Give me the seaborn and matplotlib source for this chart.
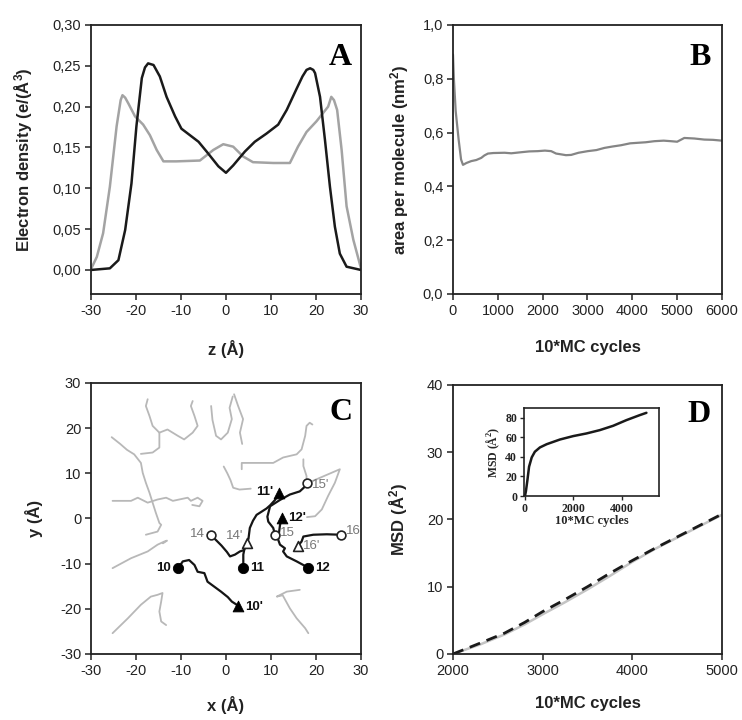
import matplotlib
matplotlib.use("Agg")
import matplotlib.pyplot as plt
from matplotlib.ticker import FixedLocator
import pandas as pd
import seaborn as sns

# ---- panel A: electron density profiles ----
z_dark = [-30, -25.8, -23.9, -22.4, -21.0, -19.9, -18.7, -18.0, -17.3, -16.1, -14.7, -13.2, -11.3, -9.9,
          -8.0, -6.1, -4.3, -1.7, 0.0, 1.6, 4.2, 6.4, 9.0, 11.6, 13.5, 15.7, 17.0, 17.9, 18.7, 19.4, 19.8,
          20.9, 22.0, 23.1, 24.2, 25.3, 26.8, 30]
rho_dark = [0.0, 0.002, 0.012, 0.049, 0.106, 0.176, 0.235, 0.248, 0.253, 0.251, 0.237, 0.212, 0.188, 0.173,
            0.165, 0.157, 0.145, 0.127, 0.119, 0.128, 0.145, 0.157, 0.167, 0.178, 0.196, 0.222, 0.237, 0.245,
            0.247, 0.245, 0.241, 0.212, 0.159, 0.102, 0.053, 0.020, 0.004, 0.0]
z_light = [-30, -28.7, -27.3, -25.8, -24.3, -23.4, -23.0, -22.4, -21.7, -20.2, -18.4, -16.9, -15.4, -13.9,
           -11.0, -5.8, -2.8, -0.6, 1.6, 3.8, 6.0, 10.5, 14.2, 16.0, 17.9, 20.1, 22.7, 23.4, 24.0, 24.7,
           25.7, 26.8, 28.3, 30]
rho_light = [0.001, 0.016, 0.045, 0.102, 0.176, 0.208, 0.214, 0.211, 0.204, 0.188, 0.178, 0.165, 0.147,
             0.133, 0.133, 0.134, 0.147, 0.154, 0.151, 0.139, 0.132, 0.131, 0.131, 0.151, 0.169, 0.182,
             0.200, 0.212, 0.208, 0.196, 0.147, 0.078, 0.037, 0.002]

# ---- panel B: area per molecule ----
cycles_b = [0, 20, 60, 126, 180, 223, 300, 408, 520, 631, 700, 780, 900, 1151, 1300, 1522, 1700, 1893,
            2050, 2190, 2300, 2413, 2520, 2636, 2800, 3007, 3200, 3378, 3550, 3750, 3950, 4121, 4300,
            4492, 4700, 4863, 5000, 5160, 5383, 5605, 5800, 6000]
area = [0.89, 0.80, 0.68, 0.574, 0.50, 0.48, 0.487, 0.494, 0.498, 0.506, 0.515, 0.522, 0.524, 0.525,
        0.523, 0.527, 0.530, 0.531, 0.533, 0.531, 0.522, 0.519, 0.516, 0.517, 0.525, 0.531, 0.535,
        0.543, 0.548, 0.553, 0.560, 0.562, 0.564, 0.568, 0.570, 0.568, 0.566, 0.580, 0.578, 0.574,
        0.573, 0.570]

# ---- panel C: lateral trajectories ----
t10_x = [-10.6, -9.6, -8.2, -7.0, -6.3, -4.8, -4.1, -2.6, -1.1, 0.4, 1.3, 2.7]
t10_y = [-11.0, -9.5, -9.2, -10.3, -11.8, -12.1, -14.0, -15.1, -16.2, -17.4, -18.4, -19.3]
t11_x = [3.85, 3.85, 4.2, 5.0, 5.3, 6.0, 6.8, 7.9, 9.0, 9.8, 10.9, 11.8]
t11_y = [-10.9, -8.0, -6.2, -4.5, -2.1, -0.5, 0.8, 1.5, 2.2, 2.9, 4.1, 5.6]
t12_x = [18.3, 15.7, 13.5, 12.7, 13.1, 12.0, 11.6, 11.8, 12.0, 12.4]
t12_y = [-10.9, -9.5, -8.4, -7.3, -6.6, -5.8, -4.7, -3.0, -1.5, 0.1]
t14_x = [-3.4, -2.2, -1.0, 0.2, 0.9, 2.0, 3.1, 4.0, 4.6]
t14_y = [-3.6, -4.8, -6.0, -7.4, -8.4, -8.0, -7.3, -7.0, -5.5]
t15_x = [10.9, 10.5, 9.4, 9.2, 9.8, 12.0, 14.2, 16.4, 17.6, 18.0]
t15_y = [-3.6, -2.1, -0.7, 0.4, 2.7, 4.1, 5.3, 6.0, 7.1, 7.8]
t16_x = [25.5, 22.4, 19.4, 17.2, 16.8, 15.9]
t16_y = [-3.6, -3.5, -3.6, -4.0, -5.1, -6.2]

g1_x = [-25.4, -23.5, -22.0, -20.4, -18.9, -18.5, -17.8, -17.0, -16.3, -15.6, -14.8, -14.4, -15.2, -17.8]
g1_y = [18.0, 16.5, 15.2, 14.2, 12.3, 10.1, 7.9, 5.7, 3.5, 1.3, -1.0, -1.4, -2.9, -3.6]
g2_x = [-17.4, -17.8, -17.0, -16.3, -14.8, -14.8, -16.3, -18.9]
g2_y = [26.4, 24.9, 22.7, 20.5, 19.0, 15.7, 14.6, 14.3]
g3_x = [-14.8, -13.0, -10.7, -9.3, -7.4, -6.3, -7.0, -7.8, -7.4]
g3_y = [19.0, 19.7, 18.3, 17.5, 19.0, 20.5, 22.7, 24.9, 26.0]
g4_x = [-25.2, -21.1, -19.6, -17.4, -15.2, -13.3, -11.8, -10.4, -8.5, -7.8, -6.3, -5.2, -5.9, -7.5]
g4_y = [3.9, 3.9, 4.6, 3.5, 4.2, 4.6, 3.9, 4.2, 4.6, 3.9, 4.6, 3.9, 2.7, 3.0]
g5_x = [-3.3, -3.0, -2.2, -1.1, 0.4, 1.3, 0.8, 1.5]
g5_y = [24.9, 21.8, 18.3, 17.5, 19.0, 22.0, 24.5, 27.0]
g6_x = [1.8, 2.7, 3.8, 3.1, 3.6]
g6_y = [27.5, 24.9, 22.0, 19.0, 16.5]
g7_x = [-0.5, 0.3, 1.0, 1.6, 3.0, 5.5]
g7_y = [11.5, 10.0, 8.5, 6.8, 6.4, 6.6]
g8_x = [3.5, 3.5, 5.7, 7.9, 10.5, 12.7, 15.7, 16.8, 17.6, 17.9, 18.6, 19.2]
g8_y = [10.9, 12.3, 12.3, 12.3, 12.3, 13.5, 14.2, 15.3, 18.3, 20.5, 21.2, 20.8]
g9_x = [17.2, 17.2, 17.9, 17.9, 18.3, 25.3, 24.2, 22.7, 21.3, 19.8, 18.0]
g9_y = [13.1, 11.6, 9.4, 7.9, 7.9, 10.9, 7.9, 5.0, 2.0, 0.5, 0.3]
g10_x = [-25.2, -21.1, -17.4, -15.2, -13.7, -13.1, -14.0]
g10_y = [-11.0, -8.8, -7.3, -5.8, -5.1, -4.9, -5.5]
g11_x = [-25.2, -21.8, -18.9, -16.7, -15.2, -14.1, -14.4, -14.8, -14.4, -13.3]
g11_y = [-25.4, -22.1, -19.1, -17.3, -16.9, -16.5, -18.4, -20.6, -22.8, -23.6]
g12_x = [16.4, 13.5, 11.3, 12.6, 14.2, 15.7, 17.6, 18.3]
g12_y = [-15.8, -16.2, -17.3, -17.0, -19.9, -22.1, -24.3, -25.4]

start_filled_x = [-10.6, 3.85, 18.3]
start_filled_y = [-11.0, -10.9, -10.9]
end_filled_x = [2.7, 11.8, 12.4]
end_filled_y = [-19.3, 5.6, 0.1]
start_open_x = [-3.4, 10.9, 25.5, 18.0]
start_open_y = [-3.6, -3.6, -3.6, 7.8]
end_open_x = [4.6, 15.9]
end_open_y = [-5.5, -6.2]

dark_labels = ["10", "11", "12", "10'", "11'", "12'"]
dark_lab_x = [-12.3, 5.3, 19.8, 4.2, 10.6, 13.7]
dark_lab_y = [-11.0, -11.0, -11.0, -19.6, 5.8, 0.0]
dark_lab_ha = ["right", "left", "left", "left", "right", "left"]
light_labels = ["14", "14'", "15", "15'", "16", "16'"]
light_lab_x = [-4.8, 3.8, 12.0, 19.2, 26.6, 17.0]
light_lab_y = [-3.4, -3.8, -3.2, 7.4, -2.8, -6.2]
light_lab_ha = ["right", "right", "left", "left", "left", "left"]

# ---- panel D: mean square displacement ----
cycles_d = [2000, 2300, 2575, 2800, 3000, 3250, 3500, 3750, 4000, 4250, 4500, 4750, 5000]
msd_dashed = [0.0, 1.6, 3.1, 4.7, 6.3, 8.1, 10.0, 12.0, 13.9, 15.7, 17.4, 19.1, 20.8]
msd_solid = [0.0, 1.4, 2.9, 4.4, 5.9, 7.7, 9.6, 11.6, 13.7, 15.6, 17.3, 19.0, 20.7]
cycles_inset = [0, 40, 100, 170, 280, 410, 620, 900, 1450, 2000, 2550, 3100, 3650, 4200, 4750, 5030]
msd_inset = [0, 5, 16, 30, 39.5, 45.3, 49.7, 53, 57.8, 61.3, 64, 67.4, 71.8, 77.6, 82.7, 85.1]


def comma(vals, fmt):
    return [fmt.format(v).replace(".", ",") for v in vals]


def style_axes(ax):
    for sp in ax.spines.values():
        sp.set_linewidth(1.3)
        sp.set_color("#222222")
    ax.tick_params(direction="out", length=4, width=1.1, color="#222222",
                   labelsize=10.5, labelcolor="#222222", pad=3)


def panel_letter(ax, letter, x, y):
    ax.text(x, y, letter, transform=ax.transAxes, ha="right", va="baseline",
            fontsize=23, fontweight="bold", family="Liberation Serif", color="black")


sns.set_style("ticks")
plt.rcParams["font.family"] = ["Liberation Sans", "DejaVu Sans"]
plt.rcParams["mathtext.default"] = "regular"

fig = plt.figure(figsize=(7.42, 7.2), dpi=100)
axA = fig.add_axes([0.1226, 0.5917, 0.3639, 0.3736])
axB = fig.add_axes([0.6105, 0.5917, 0.3625, 0.3736])
axC = fig.add_axes([0.1226, 0.0917, 0.3639, 0.3764])
axD = fig.add_axes([0.6105, 0.0917, 0.3625, 0.3736])
axI = fig.add_axes([0.7062, 0.3111, 0.1819, 0.1222])

label_font = dict(fontsize=12, fontweight="bold", color="#222222")

# A
sns.lineplot(x=z_light, y=rho_light, ax=axA, color="#a3a3a3", lw=1.8, sort=False, estimator=None)
sns.lineplot(x=z_dark, y=rho_dark, ax=axA, color="#1a1a1a", lw=1.8, sort=False, estimator=None)
axA.set_xlim(-30, 30)
axA.set_ylim(-0.0294, 0.30)
a_xt = [-30, -20, -10, 0, 10, 20, 30]
a_yt = [0.0, 0.05, 0.10, 0.15, 0.20, 0.25, 0.30]
axA.xaxis.set_major_locator(FixedLocator(a_xt))
axA.set_xticklabels([str(v) for v in a_xt])
axA.yaxis.set_major_locator(FixedLocator(a_yt))
axA.set_yticklabels(comma(a_yt, "{:.2f}"))
axA.set_xlabel("z (Å)", **label_font)
axA.set_ylabel("Electron density (e/(Å$^3$)", **label_font)
axA.xaxis.set_label_coords(0.5, -0.171)
axA.yaxis.set_label_coords(-0.207, 0.5)
style_axes(axA)
panel_letter(axA, "A", 0.967, 0.851)

# B
sns.lineplot(x=cycles_b, y=area, ax=axB, color="#858585", lw=1.6, sort=False, estimator=None)
axB.set_xlim(0, 6000)
axB.set_ylim(0, 1.0)
b_xt = [0, 1000, 2000, 3000, 4000, 5000, 6000]
b_yt = [0.0, 0.2, 0.4, 0.6, 0.8, 1.0]
axB.xaxis.set_major_locator(FixedLocator(b_xt))
axB.set_xticklabels([str(v) for v in b_xt])
axB.yaxis.set_major_locator(FixedLocator(b_yt))
axB.set_yticklabels(comma(b_yt, "{:.1f}"))
axB.set_xlabel("10*MC cycles", **label_font)
axB.set_ylabel("area per molecule (nm$^2$)", **label_font)
axB.xaxis.set_label_coords(0.5, -0.171)
axB.yaxis.set_label_coords(-0.156, 0.5)
style_axes(axB)
panel_letter(axB, "B", 0.959, 0.851)

# C
gray_paths = [(g1_x, g1_y), (g2_x, g2_y), (g3_x, g3_y), (g4_x, g4_y), (g5_x, g5_y), (g6_x, g6_y),
              (g7_x, g7_y), (g8_x, g8_y), (g9_x, g9_y), (g10_x, g10_y), (g11_x, g11_y), (g12_x, g12_y)]
gray_df = pd.concat([pd.DataFrame({"x": gx, "y": gy, "path": i}) for i, (gx, gy) in enumerate(gray_paths)])
sns.lineplot(data=gray_df, x="x", y="y", units="path", estimator=None, sort=False,
             color="#b8b8b8", lw=1.3, ax=axC)
dark_paths = [(t10_x, t10_y), (t11_x, t11_y), (t12_x, t12_y), (t14_x, t14_y), (t15_x, t15_y), (t16_x, t16_y)]
dark_df = pd.concat([pd.DataFrame({"x": tx, "y": ty, "path": i}) for i, (tx, ty) in enumerate(dark_paths)])
sns.lineplot(data=dark_df, x="x", y="y", units="path", estimator=None, sort=False,
             color="#151515", lw=1.6, ax=axC)
sns.scatterplot(x=start_filled_x, y=start_filled_y, ax=axC, marker="o", s=55, color="black",
                edgecolor="black", zorder=5)
sns.scatterplot(x=end_filled_x, y=end_filled_y, ax=axC, marker="^", s=60, color="black",
                edgecolor="black", zorder=5)
sns.scatterplot(x=start_open_x, y=start_open_y, ax=axC, marker="o", s=40, color="white",
                edgecolor="#222222", linewidth=1.2, zorder=5)
sns.scatterplot(x=end_open_x, y=end_open_y, ax=axC, marker="^", s=50, color="white",
                edgecolor="#222222", linewidth=1.2, zorder=5)
for t, lx, ly, ha in zip(dark_labels, dark_lab_x, dark_lab_y, dark_lab_ha):
    axC.text(lx, ly, t, ha=ha, va="center", fontsize=9.5, fontweight="bold", color="#111111")
for t, lx, ly, ha in zip(light_labels, light_lab_x, light_lab_y, light_lab_ha):
    axC.text(lx, ly, t, ha=ha, va="center", fontsize=9.5, color="#777777")
axC.set_xlim(-30, 30)
axC.set_ylim(-30, 30)
c_t = [-30, -20, -10, 0, 10, 20, 30]
axC.xaxis.set_major_locator(FixedLocator(c_t))
axC.set_xticklabels([str(v) for v in c_t])
axC.yaxis.set_major_locator(FixedLocator(c_t))
axC.set_yticklabels([str(v) for v in c_t])
axC.set_xlabel("x (Å)", **label_font)
axC.set_ylabel("y (Å)", **label_font)
axC.xaxis.set_label_coords(0.5, -0.155)
axC.yaxis.set_label_coords(-0.178, 0.5)
style_axes(axC)
panel_letter(axC, "C", 0.967, 0.863)

# D
sns.lineplot(x=cycles_d, y=msd_solid, ax=axD, color="#c4c4c4", lw=1.8, sort=False, estimator=None)
sns.lineplot(x=cycles_d, y=msd_dashed, ax=axD, color="#1a1a1a", lw=2.0, sort=False, estimator=None,
             dashes=False, linestyle=(0, (4, 2.5)))
axD.set_xlim(2000, 5000)
axD.set_ylim(0, 40)
d_xt = [2000, 3000, 4000, 5000]
d_yt = [0, 10, 20, 30, 40]
axD.xaxis.set_major_locator(FixedLocator(d_xt))
axD.set_xticklabels([str(v) for v in d_xt])
axD.yaxis.set_major_locator(FixedLocator(d_yt))
axD.set_yticklabels([str(v) for v in d_yt])
axD.set_xlabel("10*MC cycles", **label_font)
axD.set_ylabel("MSD (Å$^2$)", **label_font)
axD.xaxis.set_label_coords(0.5, -0.155)
axD.yaxis.set_label_coords(-0.16, 0.5)
style_axes(axD)
panel_letter(axD, "D", 0.959, 0.863)

# inset
sns.lineplot(x=cycles_inset, y=msd_inset, ax=axI, color="#1a1a1a", lw=1.8, sort=False, estimator=None)
axI.set_xlim(-40, 5550)
axI.set_ylim(0, 90)
i_xt = [0, 2000, 4000]
i_yt = [0, 20, 40, 60, 80]
axI.xaxis.set_major_locator(FixedLocator(i_xt))
axI.set_xticklabels([str(v) for v in i_xt], family="Liberation Serif", fontweight="bold")
axI.yaxis.set_major_locator(FixedLocator(i_yt))
axI.set_yticklabels([str(v) for v in i_yt], family="Liberation Serif", fontweight="bold")
axI.set_xlabel("10*MC cycles", fontsize=9, family="Liberation Serif", fontweight="bold", labelpad=0)
axI.set_ylabel("MSD (Å$^2$)", fontsize=8.5, family="Liberation Serif", fontweight="bold", labelpad=2)
for sp in axI.spines.values():
    sp.set_linewidth(1.2)
    sp.set_color("#222222")
axI.tick_params(direction="out", length=3, width=1, labelsize=8.5, pad=2, labelcolor="#222222")

fig.savefig("out.png", dpi=100)
